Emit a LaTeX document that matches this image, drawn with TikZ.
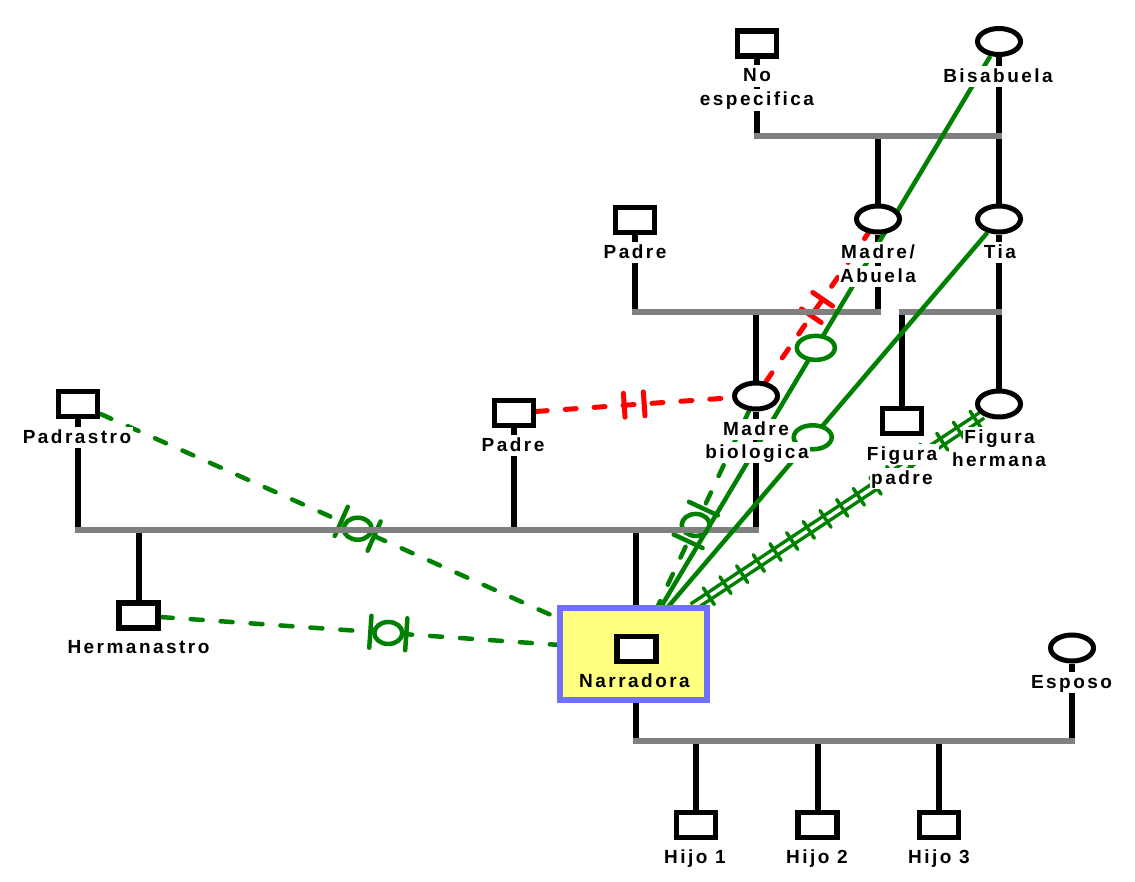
\documentclass[tikz,border=0pt]{standalone}
\usepackage{fontspec}
\setmainfont{Liberation Sans}[LetterSpace=13]
\usetikzlibrary{decorations.markings,shapes.geometric,calc}
\definecolor{grn}{RGB}{0,128,0}
\definecolor{gry}{RGB}{128,128,128}
\definecolor{nblue}{RGB}{112,112,255}
\definecolor{nyel}{RGB}{255,255,128}
\pgfdeclarelayer{dashl}
\pgfdeclarelayer{faml}
\pgfdeclarelayer{solidl}
\pgfsetlayers{dashl,faml,solidl,main}
\begin{document}
\begin{tikzpicture}[x=1pt,y=-1pt,
  msq/.style={draw=black, line width=5.5pt, fill=white, minimum width=39pt, minimum height=25pt, inner sep=0pt},
  fci/.style={ellipse, draw=black, line width=5pt, fill=white, minimum width=43pt, minimum height=26pt, inner sep=0pt},
  lbl/.style={anchor=base, fill=white, font=\bfseries\fontsize{19pt}{22pt}\selectfont, text height=14pt, text depth=2.5pt, inner xsep=1.5pt, inner ysep=2.5pt},
  kin/.style={draw=black, line width=6pt},
  kbar/.style={draw=gry, line width=5.5pt},
  dgreen/.style={draw=grn, line width=4.5pt, dash pattern=on 12pt off 18pt, line cap=round},
  sgreen/.style={draw=grn, line width=4.5pt},
  dred/.style={draw=red, line width=5pt, dash pattern=on 11pt off 18pt, line cap=round},
  cutmark/.style={postaction={decorate, decoration={markings, mark=at position #1 with {
      \draw[grn, line width=4.5pt, solid, line cap=round] (-18pt,-16pt) -- (-18pt,16pt) (18pt,-16pt) -- (18pt,16pt);
      \pgftransformresetnontranslations
      \draw[grn, line width=4.5pt, solid, fill=white] (0,0) ellipse [x radius=14pt, y radius=11pt];
    }}}},
  redbars/.style={postaction={decorate, decoration={markings, mark=at position 0.5 with {
      \draw[red, line width=5pt, solid, line cap=round] (-10pt,-12pt) -- (-10pt,12pt) (10pt,-12pt) -- (10pt,12pt);
    }}}},
  ring/.style={postaction={decorate, decoration={markings, mark=at position #1 with {
      \pgftransformresetnontranslations
      \draw[grn, line width=4.5pt, solid, fill=white] (0,0) ellipse [x radius=19pt, y radius=12pt];
    }}}},
  fused/.style={draw=grn, line width=3.5pt, double=white, double distance=3.5pt},
  fusedticks/.style={decorate, decoration={markings, mark=between positions 8pt and 342pt step 20pt with {
      \draw[grn, line width=3.5pt, line cap=round] (0,-10pt) -- (0,10pt);
    }}}
]
\useasboundingbox (0,0) rectangle (1135,881);

% ---------- persons ----------
\node[msq] (ne)  at (757,43.5) {};
\node[fci] (bis) at (999,41.5) {};
\node[msq] (pt)  at (635,220) {};
\node[fci] (mab) at (878,219) {};
\node[fci] (tia) at (999,219) {};
\node[fci] (mbio) at (756,396) {};
\node[msq] (fp)  at (902,421) {};
\node[fci] (fh)  at (999,404) {};
\node[msq] (pm)  at (514,413) {};
\node[msq] (pad) at (78,404) {};
\node[msq] (her) at (138.5,615.5) {};
\node[draw=nblue, fill=nyel, line width=6pt, minimum width=147pt, minimum height=92pt, inner sep=0pt] (narr) at (633.5,654) {};
\node[msq] (narrsq) at (636.5,649) {};
\node[fci] (esp) at (1072,648) {};
\node[msq] (h1) at (696,825) {};
\node[msq] (h2) at (817.5,825) {};
\node[msq] (h3) at (939,825) {};

% ---------- labels ----------
\node[lbl] (neT1) at (757,81.5) {No};
\node[lbl] (neT2) at (757,105.5) {especifica};
\node[lbl] (bisT) at (998,82) {Bisabuela};
\node[lbl] (ptT) at (635,258) {Padre};
\node[lbl] (mabT1) at (878,258) {Madre/};
\node[lbl] (mabT2) at (878,282) {Abuela};
\node[lbl] (tiaT) at (1000,258) {Tia};
\node[lbl] (padT) at (77,443) {Padrastro};
\node[lbl] (pmT) at (513,451) {Padre};
\node[lbl] (mbioT1) at (756,435) {Madre};
\node[lbl] (mbioT2) at (757,458) {biologica};
\node[lbl] (fpT1) at (902,460) {Figura};
\node[lbl] (fpT2) at (902,484) {padre};
\node[lbl] (fhT1) at (999.5,443) {Figura};
\node[lbl] (fhT2) at (999,466) {hermana};
\node[lbl] (herT) at (138.5,653) {Hermanastro};
\node[lbl, fill=none] (narrT) at (634.5,687) {Narradora};
\node[lbl] (espT) at (1071.5,688) {Esposo};
\node[lbl] (h1T) at (695,863) {Hijo 1};
\node[lbl] (h2T) at (817,863) {Hijo 2};
\node[lbl] (h3T) at (939,863) {Hijo 3};

% ---------- attachment points on Narradora ----------
\coordinate (nBis) at ($(narr.north west)+(101.5,6)$);
\coordinate (nTia) at ($(narr.north west)+(107.5,6)$);
\coordinate (nMb)  at ($(narr.north west)+(98.5,6)$);
\coordinate (nFh)  at ($(narr.north west)+(135.5,2)$);
\coordinate (nPad) at ($(narr.north west)+(3,14)$);
\coordinate (nHer) at ($(narr.north west)+(3,40)$);

% ---------- background and dashed relationships ----------
\begin{pgfonlayer}{dashl}
\fill[white] (0,0) rectangle (1135,881);
\draw[dgreen, cutmark=0.56] (pad) -- (nPad);
\draw[dgreen, cutmark=0.57] (her) -- (nHer);
\draw[dgreen, cutmark=0.57] (mbio) -- (nMb);
\draw[dred, redbars] (pm) -- (mbio);
\draw[dred, redbars] (mbio) -- (mab);
\end{pgfonlayer}

% ---------- family lines ----------
\begin{pgfonlayer}{faml}
\coordinate (b1) at (878,136);
\draw[kin] (ne) -- (ne |- b1);
\draw[kin] (bis) -- (tia);
\draw[kin] (b1) -- (mab);
\draw[kbar] ($(ne |- b1)+(-3,0)$) -- ($(bis |- b1)+(3,0)$);

\coordinate (b2) at (756,312);
\draw[kin] (pt) -- (pt |- b2);
\draw[kin] (mab) -- (mab |- b2);
\draw[kin] (b2) -- (mbio);
\draw[kbar] ($(pt |- b2)+(-3,0)$) -- ($(mab |- b2)+(3,0)$);

\coordinate (b3) at (902,312);
\draw[kin] (tia) -- (fh);
\draw[kin] (b3) -- (fp);
\draw[kbar] ($(b3)+(-3,0)$) -- ($(tia |- b3)+(3,0)$);

\coordinate (b4) at (636,530);
\coordinate (b4h) at (138.5,530);
\draw[kin] (pad) -- (pad |- b4);
\draw[kin] (pm) -- (pm |- b4);
\draw[kin] (mbio) -- (mbio |- b4);
\draw[kin] (b4h) -- (her);
\draw[kin] (b4) -- (b4 |- narr.north);
\draw[kbar] ($(pad |- b4)+(-3,0)$) -- ($(mbio |- b4)+(3,0)$);

\coordinate (b5) at (636,741);
\draw[kin] (b5 |- narr.south) -- (b5);
\draw[kin] (esp) -- (esp |- b5);
\draw[kin] (h1 |- b5) -- (h1);
\draw[kin] (h2 |- b5) -- (h2);
\draw[kin] (h3 |- b5) -- (h3);
\draw[kbar] ($(b5)+(-3,0)$) -- ($(esp |- b5)+(3,0)$);
\end{pgfonlayer}

% ---------- solid relationships ----------
\begin{pgfonlayer}{solidl}
\draw[sgreen, ring=0.526] (bis) -- (nBis);
\draw[sgreen, ring=0.541] (tia) -- (nTia);
\draw[fused] (fh) -- (nFh);
\path[fusedticks] (fh) -- (nFh);
\end{pgfonlayer}
\end{tikzpicture}
\end{document}
